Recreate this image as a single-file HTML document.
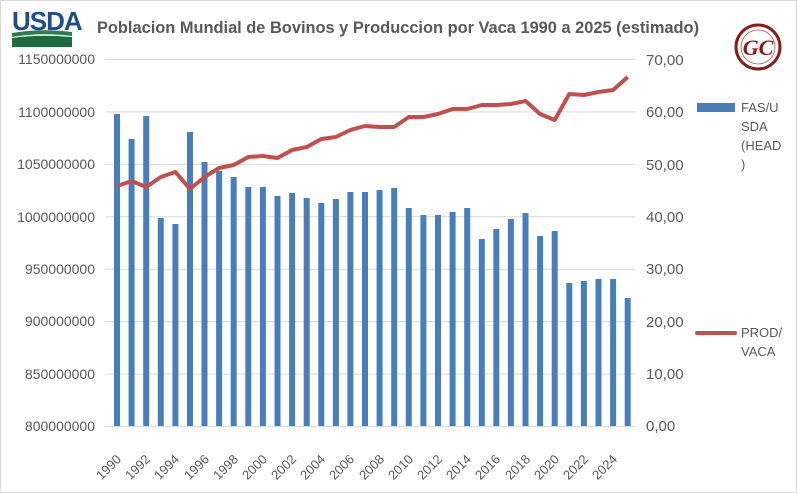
<!DOCTYPE html>
<html><head><meta charset="utf-8"><style>
html,body{margin:0;padding:0;background:#fff;}
svg{display:block;font-family:"Liberation Sans",sans-serif;}
</style></head><body>
<svg width="797" height="493" viewBox="0 0 797 493">
<rect x="0.5" y="0.5" width="796" height="492" fill="#fff" stroke="#d9d9d9"/>
<!-- USDA logo -->
<text x="12" y="30" font-size="26" font-weight="bold" fill="#1f4e8c" letter-spacing="-1">USDA</text>
<path d="M12 33 Q40 28 72 32 L72 36 Q40 32 12 37Z" fill="#2e7d4f"/>
<path d="M12 38 Q40 34 72 37 L72 47 L12 47Z" fill="#1e6b3e"/>
<text x="398" y="33" font-size="16.4" font-weight="bold" fill="#595959" text-anchor="middle">Poblacion Mundial de Bovinos y Produccion por Vaca 1990 a 2025 (estimado)</text>
<!-- GC logo -->
<circle cx="758" cy="47" r="22" fill="#fff" stroke="#8b1a1a" stroke-width="3"/>
<circle cx="758" cy="47" r="17" fill="none" stroke="#b05050" stroke-width="0.8"/>
<text x="758" y="55" font-size="22" font-style="italic" font-weight="bold" fill="#8b1a1a" text-anchor="middle" font-family="Liberation Serif,serif">GC</text>
<!-- grid -->
<g stroke="#d9d9d9" stroke-width="1">
<line x1="105" x2="635" y1="59.5" y2="59.5"/><line x1="105" x2="635" y1="111.9" y2="111.9"/>
<line x1="105" x2="635" y1="164.4" y2="164.4"/><line x1="105" x2="635" y1="216.8" y2="216.8"/>
<line x1="105" x2="635" y1="269.2" y2="269.2"/><line x1="105" x2="635" y1="321.6" y2="321.6"/>
<line x1="105" x2="635" y1="374.1" y2="374.1"/><line x1="105" x2="635" y1="426.5" y2="426.5"/>
</g>
<g font-size="14" fill="#595959" text-anchor="end">
<text x="95" y="64">1150000000</text><text x="95" y="117">1100000000</text><text x="95" y="169">1050000000</text>
<text x="95" y="222">1000000000</text><text x="95" y="274">950000000</text><text x="95" y="326">900000000</text>
<text x="95" y="379">850000000</text><text x="95" y="431">800000000</text>
</g>
<g font-size="15" fill="#595959">
<text x="646" y="65">70,00</text><text x="646" y="117">60,00</text><text x="646" y="170">50,00</text>
<text x="646" y="222">40,00</text><text x="646" y="274">30,00</text><text x="646" y="327">20,00</text>
<text x="646" y="379">10,00</text><text x="646" y="431">0,00</text>
</g>
<g fill="#4a7ebb">
<rect x="114" y="114" width="6" height="312"/><rect x="128.6" y="139" width="6" height="287"/>
<rect x="143.2" y="116" width="6" height="310"/><rect x="157.8" y="218" width="6" height="208"/>
<rect x="172.4" y="224" width="6" height="202"/><rect x="187" y="132" width="6" height="294"/>
<rect x="201.5" y="162" width="6" height="264"/><rect x="216.1" y="171" width="6" height="255"/>
<rect x="230.7" y="177" width="6" height="249"/><rect x="245.3" y="187" width="6" height="239"/>
<rect x="259.9" y="187" width="6" height="239"/><rect x="274.5" y="196" width="6" height="230"/>
<rect x="289.1" y="193" width="6" height="233"/><rect x="303.7" y="198" width="6" height="228"/>
<rect x="318.3" y="203" width="6" height="223"/><rect x="332.9" y="199" width="6" height="227"/>
<rect x="347.4" y="192" width="6" height="234"/><rect x="362" y="192" width="6" height="234"/>
<rect x="376.6" y="190" width="6" height="236"/><rect x="391.2" y="188" width="6" height="238"/>
<rect x="405.8" y="208" width="6" height="218"/><rect x="420.4" y="215" width="6" height="211"/>
<rect x="435" y="215" width="6" height="211"/><rect x="449.6" y="212" width="6" height="214"/>
<rect x="464.2" y="208" width="6" height="218"/><rect x="478.8" y="239" width="6" height="187"/>
<rect x="493.3" y="229" width="6" height="197"/><rect x="507.9" y="219" width="6" height="207"/>
<rect x="522.5" y="213" width="6" height="213"/><rect x="537.1" y="236" width="6" height="190"/>
<rect x="551.7" y="231" width="6" height="195"/><rect x="566.3" y="283" width="6" height="143"/>
<rect x="580.9" y="281" width="6" height="145"/><rect x="595.5" y="279" width="6" height="147"/>
<rect x="610.1" y="279" width="6" height="147"/><rect x="624.7" y="298" width="6" height="128"/>
</g>
<polyline fill="none" stroke="#c0504d" stroke-width="4" stroke-linejoin="round" points="117,186 131.6,181 146.2,187 160.8,177 175.4,172 190,189 204.5,177 219.1,168 233.7,165 248.3,157 262.9,156 277.5,158 292.1,150 306.7,147 321.3,139 335.9,137 350.4,130 365,126 379.6,127 394.2,127 408.8,117 423.4,117 438,114 452.6,109 467.2,109 481.8,105 496.3,105 510.9,104 525.5,101 540.1,114 554.7,120 569.3,94 583.9,95 598.5,92 613.1,90 627.7,77"/>
<g font-size="13" fill="#595959">
<text transform="translate(122,460) rotate(-45)" text-anchor="end">1990</text>
<text transform="translate(151,460) rotate(-45)" text-anchor="end">1992</text>
<text transform="translate(180,460) rotate(-45)" text-anchor="end">1994</text>
<text transform="translate(210,460) rotate(-45)" text-anchor="end">1996</text>
<text transform="translate(239,460) rotate(-45)" text-anchor="end">1998</text>
<text transform="translate(268,460) rotate(-45)" text-anchor="end">2000</text>
<text transform="translate(297,460) rotate(-45)" text-anchor="end">2002</text>
<text transform="translate(326,460) rotate(-45)" text-anchor="end">2004</text>
<text transform="translate(355,460) rotate(-45)" text-anchor="end">2006</text>
<text transform="translate(385,460) rotate(-45)" text-anchor="end">2008</text>
<text transform="translate(414,460) rotate(-45)" text-anchor="end">2010</text>
<text transform="translate(443,460) rotate(-45)" text-anchor="end">2012</text>
<text transform="translate(472,460) rotate(-45)" text-anchor="end">2014</text>
<text transform="translate(501,460) rotate(-45)" text-anchor="end">2016</text>
<text transform="translate(531,460) rotate(-45)" text-anchor="end">2018</text>
<text transform="translate(560,460) rotate(-45)" text-anchor="end">2020</text>
<text transform="translate(589,460) rotate(-45)" text-anchor="end">2022</text>
<text transform="translate(618,460) rotate(-45)" text-anchor="end">2024</text>
</g>
<rect x="697" y="103" width="38" height="9" fill="#4a7ebb"/>
<g font-size="13" fill="#595959">
<text x="741" y="112">FAS/U</text><text x="741" y="131">SDA</text><text x="741" y="150">(HEAD</text><text x="741" y="169">)</text>
<text x="741" y="337">PROD/</text><text x="741" y="356">VACA</text>
</g>
<line x1="697" x2="735" y1="333" y2="333" stroke="#c0504d" stroke-width="4" stroke-linecap="round"/>
</svg>
</body></html>
